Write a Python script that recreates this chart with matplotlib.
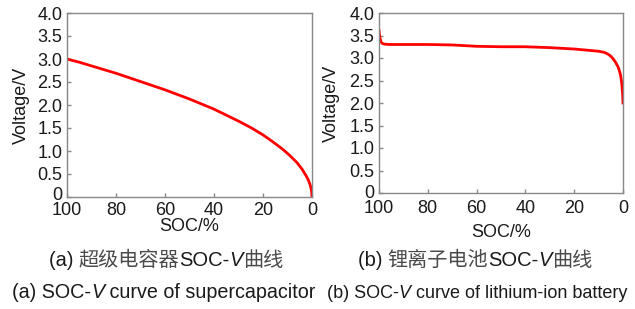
import numpy as np
import matplotlib.pyplot as plt
from matplotlib.transforms import ScaledTranslation

# supercapacitor SOC-V curve
soc_sc = [100, 95, 90, 85, 80, 75, 70, 65, 60, 55, 50, 45, 40, 35, 30, 25, 20, 16, 12, 9, 6, 4, 2.5, 1.5, 0.8, 0.3, 0.1, 0]
v_sc = [3.00, 2.93, 2.85, 2.77, 2.69, 2.60, 2.51, 2.42, 2.33, 2.23, 2.13, 2.02, 1.91, 1.78, 1.65, 1.51, 1.35, 1.20, 1.04, 0.90, 0.74, 0.60, 0.47, 0.37, 0.27, 0.17, 0.09, 0.0]

# lithium-ion battery SOC-V curve
soc_li = [100, 99.8, 99.5, 99.2, 98.8, 98, 96, 90, 80, 70, 60, 50, 40, 30, 20, 14, 10, 8, 7, 6, 5, 4, 3, 2, 1.5, 1, 0.6, 0.3, 0.1, 0]
v_li = [3.62, 3.52, 3.42, 3.36, 3.33, 3.31, 3.30, 3.30, 3.30, 3.29, 3.26, 3.25, 3.25, 3.23, 3.20, 3.17, 3.15, 3.13, 3.11, 3.08, 3.04, 2.98, 2.90, 2.80, 2.72, 2.62, 2.48, 2.30, 2.15, 2.00]

x_ticks = [100, 80, 60, 40, 20, 0]
y_ticks = [0, 0.5, 1.0, 1.5, 2.0, 2.5, 3.0, 3.5, 4.0]
y_ticklabels = ['0', '0.5', '1.0', '1.5', '2.0', '2.5', '3.0', '3.5', '4.0']

captions_cn = [("(a) ", "超级电容器", "SOC-", "曲线"), ("(b) ", "锂离子电池", "SOC-", "曲线")]
captions_en = [("(a) SOC-", " curve of supercapacitor"), ("(b) SOC-", " curve of lithium-ion battery")]

FAMILY = ['Liberation Sans', 'Noto Sans CJK SC', 'DejaVu Sans']
TXT = '#1a1a1a'
CJK = '#4a4a4a'
W, H = 635, 309

plt.rcParams['font.family'] = FAMILY

fig = plt.figure(figsize=(W / 100, H / 100), dpi=100)

def setup(ax, soc, v, ylab_x, xlab_y, xpad, zero_up):
    ax.plot(soc, v, color='#ff0000', linewidth=2)
    ax.set_xlim(100, 0)
    ax.set_ylim(0, 4.0)
    ax.set_xticks(x_ticks)
    ax.set_yticks(y_ticks)
    ax.set_yticklabels(y_ticklabels)
    for s in ax.spines.values():
        s.set_color('#888888')
        s.set_linewidth(1)
    ax.tick_params(direction='in', length=3, width=1, color='#888888',
                   labelsize=13, labelcolor=TXT, pad=3.5)
    ax.tick_params(axis='x', pad=xpad)
    ax.set_xlabel('SOC/%', fontsize=13, color=TXT)
    ax.set_ylabel('Voltage/V', fontsize=13, color=TXT)
    ax.yaxis.set_label_coords(ylab_x, 0.5)
    ax.xaxis.set_label_coords(0.5, xlab_y)
    # the "0" of the voltage axis sits a little above the corner
    lab0 = ax.get_yticklabels()[0]
    lab0.set_transform(lab0.get_transform() + ScaledTranslation(0, zero_up / 100, fig.dpi_scale_trans))

ax1 = fig.add_axes([67 / W, 1 - 197 / H, 245 / W, 184 / H])
setup(ax1, soc_sc, v_sc, -0.15, -0.112, 3.5, 4)

ax2 = fig.add_axes([379 / W, 1 - 193 / H, 244 / W, 180 / H])
setup(ax2, soc_li, v_li, -0.16, -0.172, 5, 2)

# captions built from pieces (italic V, lighter Chinese glyphs)
renderer = fig.canvas.get_renderer()

def caption(cx, y, parts, size):
    texts = [fig.text(0, 1 - y / H, s, fontsize=size, style=st, color=c,
                      va='baseline', ha='left')
             for s, st, c in parts]
    widths = [t.get_window_extent(renderer).width for t in texts]
    x = cx - sum(widths) / 2
    for t, w in zip(texts, widths):
        t.set_x(x / W)
        x += w

for cx, (lab, name, soc, tail) in zip([166, 475], captions_cn):
    caption(cx, 266, [(lab, 'normal', TXT), (name, 'normal', CJK), (soc, 'normal', TXT),
                      ('V', 'italic', TXT), (tail, 'normal', CJK)], 14.5)

for cx, size, (before, after) in zip([164, 477], [14.2, 13], captions_en):
    caption(cx, 298, [(before, 'normal', TXT), ('V', 'italic', TXT), (after, 'normal', TXT)], size)

fig.savefig('out.png', dpi=100)
